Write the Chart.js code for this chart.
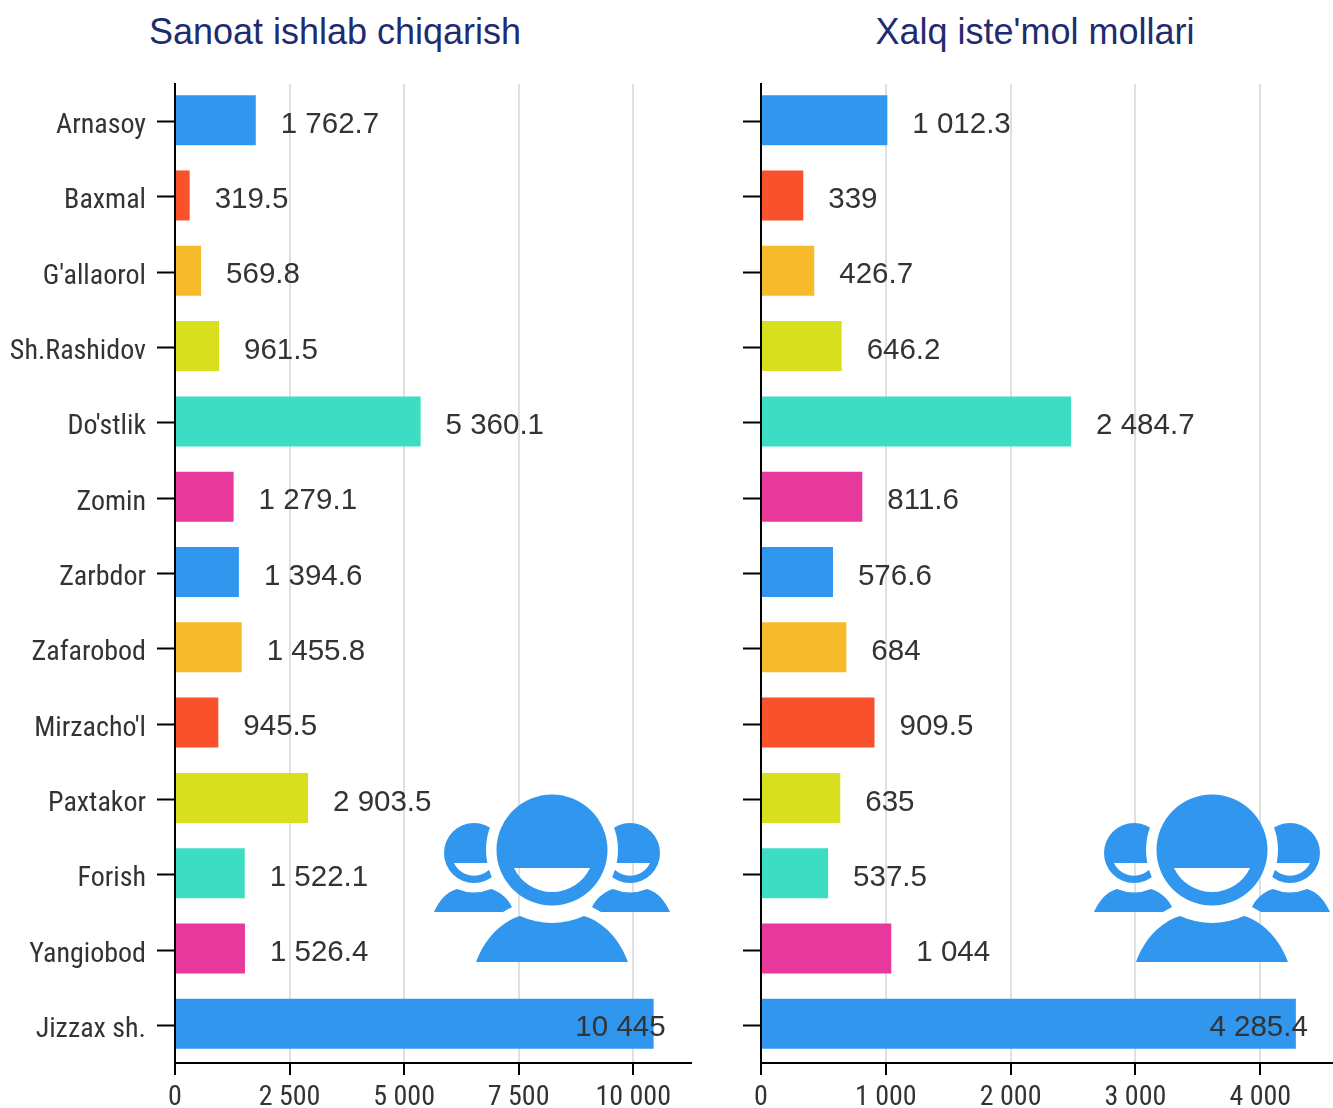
<!DOCTYPE html>
<html>
<head>
<meta charset="utf-8">
<title>Sanoat ishlab chiqarish</title>
<script src="https://cdn.jsdelivr.net/npm/chart.js@4"></script>
<style>
    html, body { margin: 0; padding: 0; background: #fff; }
    body { position: relative; width: 1333px; height: 1108px; overflow: hidden; }
    .chart-title { position: absolute; top: 11px; margin: 0; font: 400 36px "Liberation Sans", Arial, sans-serif; color: #1f2c6f; text-align: center; white-space: nowrap; }
    .chart-box { position: absolute; top: 0; height: 1108px; }
    .icon { position: absolute; left: 0; top: 0; pointer-events: none; }
</style>
</head>
<body>
<h2 class="chart-title" style="left:0;width:670px">Sanoat ishlab chiqarish</h2>
<h2 class="chart-title" style="left:737px;width:596px">Xalq iste'mol mollari</h2>
<div class="chart-box" style="left:0;width:692px"><canvas id="left"></canvas></div>
<div class="chart-box" style="left:700px;width:633px"><canvas id="right"></canvas></div>
<svg class="icon" width="1333" height="1108">
    <defs>
        <mask id="halo" maskUnits="userSpaceOnUse" x="420" y="780" width="270" height="200">
            <rect x="420" y="780" width="270" height="200" fill="#fff"/>
            <circle cx="552" cy="850" r="66" fill="#000"/>
        </mask>
        <g id="people" fill="#3096ee">
            <g mask="url(#halo)">
                <path fill-rule="evenodd" d="M444 853a30 30 0 1 0 60 0a30 30 0 1 0 -60 0ZM454 863H494A22 22 0 0 1 454 863Z"/>
                <path fill-rule="evenodd" d="M600 853a30 30 0 1 0 60 0a30 30 0 1 0 -60 0ZM610 863H650A22 22 0 0 1 610 863Z"/>
            </g>
            <path fill-rule="evenodd" d="M496.5 850a55.5 55.5 0 1 0 111 0a55.5 55.5 0 1 0 -111 0ZM590 868H514A42 42 0 0 0 590 868Z"/>
            <path d="M476 962C484 940 500 922 520 916Q552 930 584 916C604 922 620 940 628 962Z"/>
            <path d="M434 912C439 901 446 892 457 889Q474 896 491 889C501 892 508 899 512 907L503 912Z"/>
            <path d="M670 912C665 901 658 892 647 889Q630 896 613 889C603 892 596 899 592 907L601 912Z"/>
        </g>
    </defs>
    <use href="#people"/>
    <use href="#people" x="660"/>
</svg>
<script>
// Tumanlar bo'yicha ko'rsatkichlar
const categories = ['Arnasoy', 'Baxmal', "G'allaorol", 'Sh.Rashidov', "Do'stlik", 'Zomin', 'Zarbdor', 'Zafarobod', "Mirzacho'l", 'Paxtakor', 'Forish', 'Yangiobod', 'Jizzax sh.'];
const sanoatValues = [1762.7, 319.5, 569.8, 961.5, 5360.1, 1279.1, 1394.6, 1455.8, 945.5, 2903.5, 1522.1, 1526.4, 10445];
const xalqValues = [1012.3, 339, 426.7, 646.2, 2484.7, 811.6, 576.6, 684, 909.5, 635, 537.5, 1044, 4285.4];
const sanoatTicks = [0, 2500, 5000, 7500, 10000];
const xalqTicks = [0, 1000, 2000, 3000, 4000];
const barColors = ['#3096ee', '#f8512b', '#f7ba2b', '#d7df1e', '#3cddc2', '#e6399b', '#3096ee', '#f7ba2b', '#f8512b', '#d7df1e', '#3cddc2', '#e6399b', '#3096ee'];

const spaced = v => String(v).replace(/\B(?=(\d{3})+(?!\d))/, ' ');

// bars sit a little above their tick marks in the original
const barShift = {
    id: 'barShift',
    afterDatasetsUpdate(chart) {
        chart.getDatasetMeta(0).data.forEach(bar => { bar.y -= 1.5; });
    }
};

// value labels sit right of the bar, the longest one goes back over its end
const valueLabels = {
    id: 'valueLabels',
    afterDatasetsDraw(chart) {
        const { ctx } = chart;
        const values = chart.data.datasets[0].data;
        const top = Math.max(...values);
        ctx.save();
        ctx.font = '29.5px "Liberation Sans", Arial, sans-serif';
        ctx.fillStyle = '#333';
        ctx.textBaseline = 'middle';
        chart.getDatasetMeta(0).data.forEach((bar, i) => {
            const isTop = values[i] === top;
            ctx.textAlign = isTop ? 'right' : 'left';
            ctx.fillText(spaced(values[i]), bar.x + (isTop ? 12 : 25), bar.y + 4.5);
        });
        ctx.restore();
    }
};

const narrowTicks = {
    id: 'narrowTicks',
    beforeDraw(chart) { chart.ctx.fontStretch = 'condensed'; }
};

function makeChart(id, values, tickValues, max, axisWidth, showNames) {
    const tickFont = { family: 'Roboto', size: 28 };
    new Chart(document.getElementById(id), {
        type: 'bar',
        data: {
            labels: categories,
            datasets: [{ data: values, backgroundColor: barColors, barPercentage: 0.664, categoryPercentage: 1 }]
        },
        options: {
            indexAxis: 'y',
            responsive: true,
            maintainAspectRatio: false,
            animation: false,
            layout: { padding: { top: 84, left: 0, right: 0, bottom: 0 } },
            plugins: { legend: { display: false }, tooltip: { enabled: false }, title: { display: false } },
            scales: {
                x: {
                    min: 0, max,
                    afterBuildTicks(s) { s.ticks = tickValues.map(value => ({ value })); },
                    afterFit(s) { s.height = 45; },
                    border: { color: '#000', width: 2 },
                    grid: { color: '#e0e0e0', lineWidth: 2, tickColor: '#000', tickLength: 12, tickWidth: 2 },
                    ticks: { autoSkip: false, maxRotation: 0, color: '#333', padding: 6, font: tickFont, callback: v => spaced(v) }
                },
                y: {
                    afterFit(s) { s.width = axisWidth; },
                    border: { color: '#000', width: 2 },
                    grid: { offset: false, drawOnChartArea: false, tickColor: '#000', tickLength: 18, tickWidth: 2 },
                    ticks: { display: showNames, autoSkip: false, color: '#333', padding: 11, labelOffset: 4.5, font: tickFont }
                }
            }
        },
        plugins: [narrowTicks, barShift, valueLabels]
    });
}

makeChart('left', sanoatValues, sanoatTicks, 11283, 175, true);
makeChart('right', xalqValues, xalqTicks, 4583, 61, false);
</script>
</body>
</html>
